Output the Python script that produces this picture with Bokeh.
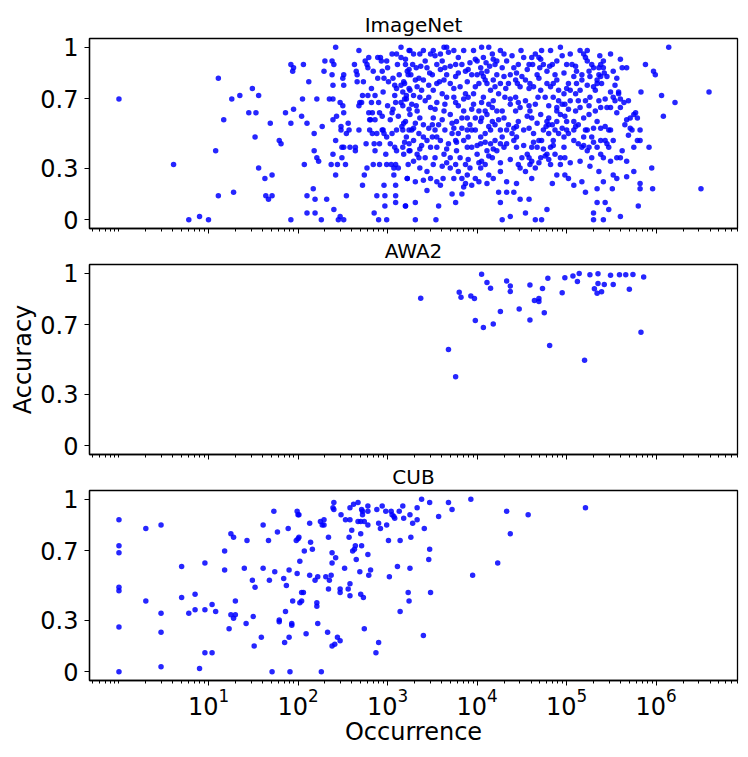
import numpy as np
from bokeh.plotting import figure
from bokeh.layouts import column
from bokeh.models import Range1d, FixedTicker
from bokeh.embed import file_html
from bokeh.resources import INLINE

# ---------------- data (log10 of occurrence, accuracy) ----------------
imagenet_log_occ = [
    0.00, 0.61, 0.78, 0.90, 1.00, 1.08, 1.11, 1.11, 1.17, 1.26, 1.28, 1.35, 1.45, 1.49, 1.52, 1.53, 1.56, 1.56,
    1.63, 1.64, 1.67, 1.71, 1.71, 1.69, 1.79, 1.81, 1.86, 1.92, 1.92, 1.92, 1.94, 1.95, 1.95, 2.05, 2.04, 2.06,
    2.07, 2.10, 2.10, 2.10, 2.12, 2.17, 2.18, 2.18, 2.19, 2.19, 2.21, 2.21, 2.23, 2.26, 2.27, 2.29, 2.30, 2.32,
    2.35, 2.37, 2.38, 2.38, 2.39, 2.39, 2.39, 2.39, 2.40, 2.40, 2.42, 2.42, 2.43, 2.42, 2.44, 2.45, 2.47, 2.47,
    2.48, 2.48, 2.49, 2.49, 2.51, 2.50, 2.50, 2.51, 2.51, 2.51, 2.51, 2.53, 2.54, 2.54, 2.56, 2.57, 2.58, 2.63,
    2.64, 2.64, 2.65, 2.66, 2.66, 2.68, 2.68, 2.68, 2.69, 2.71, 2.72, 2.72, 2.73, 2.74, 2.75, 2.76, 2.77, 2.77,
    2.78, 2.78, 2.79, 2.79, 2.80, 2.80, 2.81, 2.82, 2.82, 2.83, 2.83, 2.84, 2.84, 2.85, 2.85, 2.86, 2.86, 2.86,
    2.88, 2.88, 2.89, 2.89, 2.90, 2.90, 2.91, 2.91, 2.91, 2.92, 2.93, 2.94, 2.94, 2.94, 2.95, 2.95, 2.96, 2.96,
    2.96, 2.97, 2.97, 2.98, 2.99, 2.99, 2.99, 2.99, 3.00, 3.00, 3.01, 3.03, 3.03, 3.04, 3.05, 3.05, 3.05, 3.06,
    3.06, 3.07, 3.07, 3.08, 3.08, 3.08, 3.09, 3.09, 3.10, 3.10, 3.10, 3.10, 3.11, 3.09, 3.09, 3.09, 3.12, 3.12,
    3.13, 3.15, 3.15, 3.15, 3.15, 3.16, 3.17, 3.17, 3.17, 3.17, 3.18, 3.18, 3.18, 3.19, 3.20, 3.20, 3.21, 3.21,
    3.22, 3.23, 3.24, 3.24, 3.24, 3.24, 3.24, 3.24, 3.24,
    3.25, 3.29, 3.28, 3.32, 3.26, 3.31, 3.25, 3.33, 3.29, 3.36, 3.27, 3.33, 3.25, 3.36, 3.31, 3.27, 3.35, 3.40,
    3.29, 3.38, 3.25, 3.33, 3.42, 3.29, 3.36, 3.22, 3.31, 3.44, 3.20, 3.31, 3.31, 3.40, 3.44, 3.48, 3.50, 3.46,
    3.48, 3.51, 3.46, 3.50, 3.48, 3.51, 3.44, 3.48, 3.40, 3.42, 3.51, 3.38, 3.51, 3.50,
    3.54, 3.57, 3.59, 3.62, 3.55, 3.59, 3.63, 3.66, 3.61, 3.64, 3.66, 3.70, 3.58, 3.61, 3.66, 3.55, 3.63, 3.70,
    3.57, 3.64, 3.72, 3.59, 3.68, 3.76, 3.55, 3.63, 3.70, 3.77, 3.61, 3.70, 3.79, 3.72, 3.76, 3.83, 3.85, 3.74,
    3.79, 3.83, 3.87, 3.76, 3.81, 3.87, 3.74, 3.79, 3.85, 3.89, 3.77, 3.83, 3.89, 3.74, 3.79, 3.85, 3.89, 3.81,
    3.87, 3.83, 3.89, 3.55, 3.76,
    3.92, 3.94, 4.00, 4.04, 4.07, 4.11, 4.13, 4.17, 4.15, 4.20, 4.22, 4.26, 3.90, 3.96, 4.02, 4.05, 4.11, 4.17,
    4.22, 3.92, 3.98, 4.04, 4.09, 4.15, 4.20, 4.26, 3.94, 4.00, 4.05, 4.11, 4.17, 4.22, 3.92, 3.98, 4.04, 4.09,
    4.13, 4.26, 3.94, 4.11, 4.24, 4.26, 4.28, 4.33, 4.37, 4.41, 3.96, 4.02, 4.07, 4.13, 4.18, 4.24, 3.98, 4.09,
    4.20, 4.04, 4.15, 4.26, 4.00, 4.11, 4.18, 4.26, 3.96, 4.05, 4.22, 4.07,
    4.30, 4.33, 4.37, 4.41, 4.46, 4.52, 4.58, 4.61, 4.65, 4.69, 4.72, 4.74, 4.78, 4.30, 4.35, 4.43, 4.48, 4.54,
    4.59, 4.63, 4.71, 4.76, 4.31, 4.37, 4.43, 4.48, 4.54, 4.59, 4.65, 4.71, 4.78, 4.30, 4.35, 4.41, 4.46, 4.52,
    4.58, 4.63, 4.69, 4.74, 4.28, 4.33, 4.39, 4.44, 4.50, 4.56, 4.61, 4.67, 4.72, 4.78, 4.48, 4.54, 4.59, 4.65,
    4.71, 4.76, 4.48, 4.58, 4.54, 4.65, 4.72, 4.78, 4.44, 4.61, 4.43, 4.61, 4.50, 4.67, 4.82, 4.84, 4.87,
    4.82, 4.85, 4.89, 4.93, 4.98, 4.80, 4.84, 4.89, 4.95, 5.00, 4.80, 4.85, 4.91, 4.97, 5.00, 4.82, 4.87, 4.93,
    4.98, 4.82, 4.89, 4.98, 4.80, 4.93, 4.95, 5.00, 5.06, 5.08, 5.11, 5.15, 5.17, 4.85, 4.91, 4.97, 5.02, 5.04,
    4.89, 4.95,
    5.04, 5.10, 5.15, 5.21, 5.08, 5.13, 5.19, 5.25, 5.02, 5.08, 5.13, 5.19, 5.25, 5.30, 5.28, 5.08, 5.21, 5.30,
    5.30, 5.34, 5.34, 5.36, 5.28, 5.23, 5.17, 5.36, 5.34, 5.34, 5.38, 5.30, 5.23, 5.26, 5.21, 5.25, 5.19, 5.30,
    5.26, 5.36, 5.38, 5.32, 5.15, 5.10, 5.38, 5.34, 5.43, 5.47, 5.23, 5.38, 5.41, 5.45, 5.38, 5.41, 5.49, 5.41,
    5.45, 5.39,
    5.49, 5.43, 5.52, 5.58, 5.54, 5.60, 5.56, 5.49, 5.64, 5.69, 5.71, 5.67, 5.65, 5.71, 5.73, 5.75, 5.77, 5.69,
    5.79, 5.75, 5.62, 5.60, 5.67, 5.49, 5.52, 5.56, 5.52, 5.56, 5.47, 5.43, 5.41, 5.51, 5.60, 5.75, 5.82, 5.82,
    5.80, 5.60, 5.62, 5.67, 5.52, 5.56, 5.58, 5.47, 5.38,
    5.83, 5.88, 5.97, 5.99, 5.92, 5.95, 5.96, 6.06, 6.08, 6.14, 6.21, 5.82, 5.82, 5.79, 6.50, 6.59,
    3.20, 3.36, 3.53, 3.68, 3.85, 3.98, 4.10, 4.18, 4.39, 4.49, 4.62, 4.71, 4.89, 5.04, 5.23, 5.37,
    3.22, 3.37, 3.47, 3.59, 3.70, 3.79, 3.90, 4.05, 4.14, 4.28, 4.44, 4.56, 4.70, 4.81, 4.97, 5.10, 5.17, 5.28,
    5.36, 5.42,
    3.19, 3.35, 3.46, 3.63, 3.74, 3.89, 3.98, 4.09, 4.20, 4.32, 4.45, 4.58, 4.69, 4.78, 4.89, 5.00, 5.11, 5.23,
    5.32, 5.54,
    3.21, 3.32, 3.42, 3.53, 3.64, 3.76, 3.85, 3.94, 4.05, 4.17, 4.28, 4.37, 4.46, 4.58, 4.68, 4.80, 4.91, 5.02,
    5.13, 5.25, 5.45, 5.60,
    3.20, 3.29, 3.40, 3.53, 3.61, 3.72, 3.83, 3.94, 4.04, 4.13, 4.24, 4.33, 4.44, 4.56, 4.67, 4.77, 4.87, 4.98,
    5.10, 5.21, 5.34, 5.43,
    3.19, 3.36, 3.44, 3.55, 3.66, 3.77, 3.90, 4.00, 4.09, 4.18, 4.30, 4.41, 4.52, 4.63, 4.74, 4.85, 4.97, 5.08,
    5.19, 5.30,
    3.23, 3.35, 3.53, 3.66, 3.76, 3.90, 4.02, 4.13, 4.26, 4.37, 4.46, 4.58, 4.69, 4.80, 4.93, 5.04, 5.15, 5.26,
    5.49,
    3.40, 3.55, 3.74, 3.87, 4.02, 4.18, 4.33, 4.44, 4.61, 4.84, 5.02, 5.17, 5.41, 5.67,
]
imagenet_acc = [
    0.70, 0.32, 0.00, 0.02, 0.00, 0.40, 0.82, 0.14, 0.58, 0.70, 0.16, 0.72, 0.62, 0.76, 0.48, 0.62, 0.72, 0.30,
    0.24, 0.14, 0.12, 0.26, 0.14, 0.56, 0.46, 0.44, 0.62, 0.90, 0.56, 0.00, 0.86, 0.88, 0.64, 0.70, 0.60, 0.90,
    0.32, 0.14, 0.56, 0.04, 0.80, 0.18, 0.40, 0.50, 0.12, 0.04, 0.70, 0.36, 0.34, 0.00, 0.54, 0.86, 0.92, 0.12,
    0.70, 0.32, 0.92, 0.84, 0.78, 0.70, 0.58, 0.38, 0.90, 0.06, 1.00, 0.46, 0.60, 0.26, 0.32, 0.00, 0.68, 0.02,
    0.54, 0.52, 0.42, 0.36, 0.84, 0.66, 0.82, 0.00, 0.78, 0.62, 0.42, 0.32, 0.50, 0.14, 0.56, 0.52, 0.42, 0.90,
    0.42, 0.40, 0.86, 0.80, 0.84, 0.98, 0.66, 0.52, 0.68, 0.68, 0.72, 0.20, 0.80, 0.26, 0.92, 0.44, 0.90, 0.30,
    0.88, 0.72, 0.94, 0.62, 0.52, 0.58, 0.58, 0.68, 0.76, 0.62, 0.50, 0.32, 0.86, 0.04, 0.44, 0.40, 0.72, 0.58,
    0.14, 0.50, 0.94, 0.82, 0.00, 0.68, 0.62, 0.32, 0.44, 0.94, 0.92, 0.60, 0.52, 0.86, 0.52, 0.74, 0.82, 0.50,
    0.20, 0.14, 0.08, 0.38, 0.32, 0.48, 0.92, 0.00, 0.66, 0.88, 0.80, 0.44, 0.58, 0.32, 0.50, 0.62, 0.96, 0.82,
    0.64, 0.30, 0.26, 0.78, 0.72, 0.42, 0.68, 0.32, 0.96, 0.76, 0.52, 0.40, 0.90, 0.20, 0.10, 0.14, 0.30, 0.60,
    0.84, 0.94, 0.78, 1.00, 0.68, 0.54, 0.52, 0.66, 0.74, 0.42, 0.80, 0.56, 0.38, 0.70, 0.08, 0.90, 0.72, 0.48,
    0.24, 0.84, 0.98, 0.76, 0.64, 0.52, 0.44, 0.40, 0.87,
    0.98, 0.96, 0.90, 0.88, 0.84, 0.81, 0.75, 0.77, 0.72, 0.71, 0.67, 0.63, 0.61, 0.59, 0.56, 0.52, 0.50, 0.48,
    0.46, 0.43, 0.40, 0.38, 0.36, 0.34, 0.30, 0.24, 0.22, 0.17, 0.08, 0.10, 0.00, 0.81, 0.88, 0.96, 0.84, 0.71,
    0.65, 0.59, 0.53, 0.48, 0.42, 0.32, 0.28, 0.24, 0.98, 0.92, 0.98, 0.75, 0.75, 0.55,
    0.00, 0.08, 0.20, 0.24, 0.90, 0.96, 1.00, 1.00, 0.92, 0.88, 0.84, 0.79, 0.80, 0.73, 0.71, 0.68, 0.63, 0.61,
    0.55, 0.52, 0.50, 0.46, 0.44, 0.46, 0.42, 0.38, 0.36, 0.40, 0.31, 0.30, 0.28, 0.15, 0.10, 0.15, 0.19, 0.98,
    0.94, 0.90, 0.86, 0.83, 0.77, 0.73, 0.71, 0.66, 0.63, 0.59, 0.57, 0.53, 0.52, 0.53, 0.50, 0.46, 0.42, 0.36,
    0.32, 0.24, 0.26, 0.79, 0.90,
    0.91, 0.84, 0.92, 0.88, 0.83, 0.79, 1.00, 0.96, 0.75, 0.90, 0.84, 0.98, 0.71, 0.67, 0.63, 0.59, 0.61, 0.57,
    0.63, 0.55, 0.52, 0.48, 0.50, 0.52, 0.46, 0.52, 0.42, 0.38, 0.34, 0.40, 0.36, 0.40, 0.30, 0.24, 0.30, 0.32,
    0.26, 0.28, 0.20, 0.21, 0.16, 0.10, 0.00, 0.16, 0.02, 0.16, 0.73, 0.79, 0.71, 0.67, 0.69, 0.73, 0.59, 0.63,
    0.55, 0.44, 0.44, 0.44, 0.84, 0.86, 0.81, 0.79, 0.98, 1.00, 0.92, 0.94,
    0.96, 0.92, 0.84, 0.88, 0.90, 0.94, 0.90, 0.94, 0.96, 0.94, 0.98, 0.90, 0.86, 0.83, 0.79, 0.81, 0.77, 0.81,
    0.79, 0.77, 0.75, 0.71, 0.71, 0.67, 0.71, 0.65, 0.69, 0.63, 0.67, 0.61, 0.57, 0.59, 0.55, 0.53, 0.57, 0.52,
    0.53, 0.50, 0.46, 0.52, 0.48, 0.44, 0.50, 0.42, 0.36, 0.38, 0.34, 0.42, 0.46, 0.38, 0.30, 0.28, 0.32, 0.30,
    0.36, 0.37, 0.12, 0.12, 0.04, 0.00, 0.00, 0.06, 0.48, 0.42, 0.63, 0.59, 0.83, 0.84, 0.98, 0.90, 0.84,
    0.77, 0.71, 0.65, 0.61, 0.67, 0.59, 0.55, 0.57, 0.53, 0.57, 0.50, 0.46, 0.50, 0.48, 0.52, 0.42, 0.38, 0.32,
    0.36, 0.32, 0.26, 0.26, 0.55, 1.00, 0.95, 0.90, 0.90, 0.83, 0.86, 0.98, 0.81, 0.79, 0.75, 0.73, 0.79, 0.75,
    0.63, 0.67,
    0.69, 0.63, 0.65, 0.69, 0.57, 0.55, 0.59, 0.61, 0.50, 0.52, 0.44, 0.48, 0.42, 0.53, 0.48, 0.20, 0.16, 0.04,
    0.00, 0.10, 0.18, 0.28, 0.36, 0.40, 0.42, 0.84, 0.81, 0.79, 0.83, 0.88, 0.92, 0.83, 0.94, 0.86, 0.96, 0.77,
    0.71, 0.69, 0.65, 0.63, 0.75, 0.73, 0.46, 0.42, 0.46, 0.42, 0.52, 0.38, 0.36, 0.44, 0.90, 0.92, 0.96, 0.88,
    0.83, 0.79,
    0.74, 0.70, 0.71, 0.73, 0.69, 0.65, 0.62, 0.65, 0.68, 0.69, 0.59, 0.58, 0.55, 0.53, 0.52, 0.61, 0.62, 0.49,
    0.46, 0.42, 0.40, 0.36, 0.34, 0.52, 0.46, 0.36, 0.26, 0.24, 0.06, 0.10, 0.00, 0.18, 0.02, 0.28, 0.21, 0.18,
    0.08, 0.93, 0.88, 0.88, 0.86, 0.82, 0.74, 0.52, 0.53,
    0.74, 0.90, 0.86, 0.84, 0.42, 0.30, 0.18, 0.72, 0.60, 1.00, 0.68, 0.52, 0.46, 0.59, 0.18, 0.74,
    0.93, 0.96, 0.95, 0.97, 0.98, 0.93, 0.91, 0.93, 0.95, 0.98, 0.90, 0.93, 0.92, 0.96, 0.98, 0.95,
    0.86, 0.89, 0.85, 0.87, 0.89, 0.85, 0.87, 0.85, 0.89, 0.88, 0.85, 0.87, 0.88, 0.89, 0.85, 0.89, 0.84, 0.90,
    0.88, 0.85,
    0.79, 0.82, 0.78, 0.81, 0.76, 0.80, 0.77, 0.81, 0.77, 0.76, 0.79, 0.76, 0.82, 0.79, 0.81, 0.76, 0.79, 0.78,
    0.75, 0.78,
    0.70, 0.66, 0.69, 0.64, 0.67, 0.68, 0.70, 0.64, 0.68, 0.65, 0.63, 0.70, 0.68, 0.66, 0.71, 0.66, 0.69, 0.64,
    0.69, 0.66, 0.65, 0.70,
    0.57, 0.53, 0.55, 0.52, 0.58, 0.56, 0.59, 0.52, 0.57, 0.54, 0.58, 0.52, 0.54, 0.60, 0.56, 0.54, 0.52, 0.60,
    0.54, 0.52, 0.57, 0.54,
    0.45, 0.41, 0.46, 0.48, 0.41, 0.45, 0.48, 0.43, 0.45, 0.41, 0.42, 0.46, 0.43, 0.45, 0.41, 0.43, 0.42, 0.46,
    0.43, 0.45,
    0.32, 0.36, 0.36, 0.33, 0.32, 0.35, 0.33, 0.37, 0.33, 0.35, 0.32, 0.36, 0.33, 0.35, 0.36, 0.33, 0.34, 0.31,
    0.34,
    0.23, 0.22, 0.24, 0.21, 0.22, 0.24, 0.22, 0.21, 0.24, 0.21, 0.24, 0.22, 0.22, 0.25,
]

awa2_log_occ = [
    3.37, 3.80, 3.82, 3.93, 3.97, 4.05, 4.11, 4.15, 3.98, 4.07, 4.18, 4.26, 3.68, 3.76, 4.33, 4.37,
    4.37, 4.47, 4.59, 4.59, 4.64, 4.69, 4.69, 4.73, 4.75, 4.79, 4.81, 4.95, 4.98, 5.07, 5.12, 5.14,
    5.20, 5.26, 5.31, 5.34, 5.35, 5.35, 5.39, 5.42, 5.49, 5.52, 5.59, 5.66, 5.70, 5.74, 5.83, 5.86,
]
awa2_acc = [
    0.855, 0.89, 0.86, 0.867, 0.853, 0.994, 0.946, 0.913, 0.726, 0.685, 0.705, 0.778, 0.558, 0.40, 0.954, 0.925,
    0.894, 0.793, 0.728, 0.932, 0.842, 0.853, 0.836, 0.911, 0.77, 0.971, 0.581, 0.886, 0.973, 0.983, 0.952, 0.998,
    0.496, 0.99, 0.909, 0.884, 0.94, 0.996, 0.892, 0.934, 0.988, 0.934, 0.99, 0.99, 0.907, 0.992, 0.658, 0.977,
]

cub_log_occ = [
    0.00, 0.00, 0.00, 0.00, 0.00, 0.00, 0.00, 0.30, 0.30, 0.47, 0.47, 0.47, 0.47, 0.70, 0.70, 0.78, 0.85, 0.85,
    0.90, 0.96, 0.96, 0.96, 1.04, 1.04, 1.08, 1.18, 1.18, 1.23, 1.25, 1.28, 1.25, 1.28, 1.30, 1.30, 1.40, 1.42,
    1.43, 1.49, 1.50, 1.51, 1.52, 1.59, 1.61, 1.61, 1.67, 1.68, 1.71, 1.73, 1.74, 1.77, 1.79, 1.79, 1.84, 1.85,
    1.86, 1.87, 1.89, 1.90, 1.90, 1.91, 1.93, 1.93, 1.94, 1.98, 1.99, 1.99, 2.00, 2.00, 2.01, 2.01, 2.02, 2.02,
    2.04, 2.04, 2.06, 2.07, 2.09, 2.13, 2.13, 2.14, 2.16, 2.19, 2.21, 2.21, 2.22, 2.22, 2.25, 2.26, 2.27, 2.29,
    2.29, 2.31, 2.33, 2.34, 2.34, 2.35, 2.37, 2.38, 2.38, 2.38, 2.39, 2.40, 2.40, 2.41, 2.42, 2.44, 2.47, 2.47,
    2.47, 2.48, 2.52, 2.53, 2.56, 2.57, 2.58, 2.58, 2.58, 2.58, 2.60, 2.61, 2.62, 2.63, 2.64, 2.65, 2.67, 2.67,
    2.69, 2.70, 2.70, 2.70, 2.71, 2.71, 2.72, 2.72, 2.73, 2.74, 2.74, 2.78, 2.78, 2.78, 2.78, 2.79, 2.81, 2.87,
    2.88, 2.90, 2.90, 2.92, 2.94, 2.98, 2.99, 3.01, 3.02, 3.04, 3.05, 3.07, 3.08, 3.11, 3.13, 3.14, 3.14, 3.17,
    3.18, 3.23, 3.24,
    3.25, 3.25, 3.28, 3.26, 3.33, 3.33, 3.38, 3.41, 3.40, 3.46, 3.47, 3.47, 3.48, 3.57, 3.68, 3.72, 3.93, 3.95,
    4.23, 4.33, 4.37, 4.57, 5.21,
]
cub_acc = [
    0.88, 0.73, 0.69, 0.49, 0.47, 0.26, 0.00, 0.83, 0.41, 0.85, 0.34, 0.23, 0.03, 0.61, 0.43, 0.34, 0.45, 0.36,
    0.02, 0.63, 0.36, 0.11, 0.11, 0.39, 0.35, 0.70, 0.59, 0.25, 0.80, 0.78, 0.33, 0.31, 0.33, 0.41, 0.60, 0.28,
    0.76, 0.53, 0.32, 0.15, 0.49, 0.20, 0.85, 0.60, 0.76, 0.53, 0.00, 0.93, 0.58, 0.81, 0.30, 0.29, 0.54, 0.17,
    0.35, 0.50, 0.83, 0.59, 0.20, 0.00, 0.28, 0.27, 0.41, 0.76, 0.93, 0.57, 0.91, 0.77, 0.78, 0.91, 0.64, 0.40,
    0.41, 0.46, 0.46, 0.70, 0.22, 0.86, 0.56, 0.75, 0.71, 0.53, 0.40, 0.38, 0.55, 0.28, 0.87, 0.00, 0.85, 0.88,
    0.85, 0.55, 0.23, 0.78, 0.48, 0.53, 0.56, 0.69, 0.63, 0.15, 0.95, 0.98, 0.94, 0.16, 0.66, 0.20, 0.18, 0.48,
    0.46, 0.91, 0.60, 0.88, 0.48, 0.78, 0.95, 0.51, 0.88, 0.44, 0.82, 0.70, 0.97, 0.71, 0.73, 0.65, 0.98, 0.87,
    0.58, 0.80, 0.45, 0.87, 0.94, 0.73, 0.93, 0.91, 0.43, 0.87, 0.25, 0.93, 0.68, 0.96, 0.85, 0.56, 0.59, 0.11,
    0.94, 0.17, 0.86, 0.83, 0.96, 0.93, 0.85, 0.76, 0.55, 0.93, 0.91, 0.90, 0.89, 0.61, 0.93, 0.76, 0.35, 0.96,
    0.89, 0.46, 0.41,
    0.60, 0.91, 0.86, 0.78, 0.95, 0.88, 1.00, 0.83, 0.21, 0.65, 0.98, 0.71, 0.46, 0.90, 0.98, 0.94, 1.00, 0.56,
    0.63, 0.93, 0.80, 0.91, 0.95,
]

panel_titles = ["ImageNet", "AWA2", "CUB"]
y_ticks = [0, 0.3, 0.7, 1]
y_tick_labels = {0: "0", 0.3: "0.3", 0.7: "0.7", 1: "1"}
x_major_ticks = [1e1, 1e2, 1e3, 1e4, 1e5, 1e6]
x_label = "Occurrence"
y_label = "Accuracy"

# ---------------- styling ----------------
FONT = "DejaVu Sans"
XMIN, XMAX = 10 ** -0.329, 10 ** 6.908
x_minor_ticks = [m * 10.0 ** k for k in range(-1, 7) for m in range(1, 10) if not (m == 1 and k >= 1)]


def make_panel(title, log_occ, acc, top_border, bottom_border, bottom=False, ylabel=None):
    p = figure(
        x_axis_type="log",
        x_range=Range1d(XMIN, XMAX),
        y_range=Range1d(-0.05, 1.05),
        frame_width=648,
        frame_height=190,
        min_border_left=89,
        min_border_right=2,
        min_border_top=top_border,
        min_border_bottom=bottom_border,
        output_backend="svg",
        toolbar_location=None,
    )
    p.scatter(x=10 ** np.array(log_occ), y=acc, size=5.5, fill_color="blue",
              line_color=None, fill_alpha=0.85)

    p.title.text = title
    p.title.align = "center"
    p.title.text_font = FONT
    p.title.text_font_size = "20px"
    p.title.text_font_style = "normal"
    p.title.text_color = "black"
    p.title.standoff = 3

    p.grid.visible = False
    p.outline_line_color = "black"
    p.outline_line_width = 1.3
    p.outline_line_alpha = 1.0
    p.background_fill_color = "white"
    p.border_fill_color = "white"

    for ax in (p.xaxis[0], p.yaxis[0]):
        ax.axis_line_color = "black"
        ax.axis_line_width = 1.3
        ax.major_tick_line_color = "black"
        ax.major_tick_in = 0
        ax.major_tick_out = 5
        ax.major_tick_line_width = 1.0
        ax.major_label_text_font = FONT
        ax.major_label_text_font_size = "24px"
        ax.major_label_text_color = "black"
        ax.axis_label_text_font = FONT
        ax.axis_label_text_font_size = "24px"
        ax.axis_label_text_font_style = "normal"
        ax.axis_label_text_color = "black"

    yax = p.yaxis[0]
    yax.ticker = FixedTicker(ticks=y_ticks)
    yax.major_label_overrides = y_tick_labels
    yax.minor_tick_line_color = None
    yax.major_label_standoff = 6
    if ylabel:
        yax.axis_label = ylabel
        yax.axis_label_standoff = 0

    xax = p.xaxis[0]
    xax.ticker = FixedTicker(ticks=x_major_ticks, minor_ticks=x_minor_ticks)
    xax.minor_tick_line_color = "black"
    xax.minor_tick_in = 0
    xax.minor_tick_out = 3
    if bottom:
        xax.major_label_standoff = 2
        xax.axis_label = x_label
        xax.axis_label_standoff = 0
    else:
        # tick marks only, no labels between stacked panels
        xax.major_label_text_font_size = "2px"
        xax.major_label_text_color = None
        xax.major_label_standoff = 0
    return p


p1 = make_panel(panel_titles[0], imagenet_log_occ, imagenet_acc, 38, 7)
p2 = make_panel(panel_titles[1], awa2_log_occ, awa2_acc, 28, 7, ylabel=y_label)
p3 = make_panel(panel_titles[2], cub_log_occ, cub_acc, 28, 62, bottom=True)

layout = column(p1, p2, p3, spacing=0)
open("out.html", "w").write(file_html(layout, INLINE))
